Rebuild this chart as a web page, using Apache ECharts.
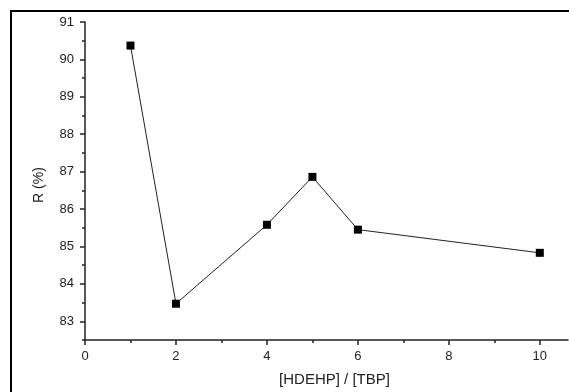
<!DOCTYPE html>
<html>
<head>
<meta charset="utf-8">
<script src="https://cdn.jsdelivr.net/npm/echarts@6/dist/echarts.min.js"></script>
<style>
  html, body { margin: 0; padding: 0; background: #fff; }
  #chart { width: 569px; height: 392px; }
</style>
</head>
<body>
<div id="chart"></div>
<script>
// data
const ratio = [1, 2, 4, 5, 6, 10];
const recovery = [90.37, 83.47, 85.58, 86.86, 85.45, 84.83];
const yMajor = [83, 84, 85, 86, 87, 88, 89, 90, 91];
const yMinor = [82.5, 83.5, 84.5, 85.5, 86.5, 87.5, 88.5, 89.5, 90.5];
const xMajor = [0, 2, 4, 6, 8, 10];

const font = 'Arial, "Liberation Sans", sans-serif';
const axisColor = '#222';

const myChart = echarts.init(document.getElementById('chart'));

const points = [];
for (let i = 0; i < ratio.length; i++) {
  points.push([ratio[i], recovery[i]]);
}

const gridLeft = 85, gridRight = 1;
const plotWidth = 569 - gridLeft - gridRight;

const option = {
  backgroundColor: '#fff',
  animation: false,
  grid: { left: gridLeft, right: gridRight, top: 22, bottom: 52, containLabel: false },
  // outer frame, cut off at right and bottom
  graphic: [
    {
      type: 'polyline',
      shape: { points: [[11, 400], [11, 11], [580, 11]] },
      style: { fill: 'none', stroke: '#000', lineWidth: 2 },
      z: 100
    }
  ],
  xAxis: {
    type: 'value',
    min: 0,
    max: 10.62,   // the axis runs off the right edge of the picture
    interval: 2,
    splitLine: { show: false },
    name: '[HDEHP] / [TBP]',
    nameLocation: 'middle',
    nameGap: 32,
    nameTextStyle: { fontFamily: font, fontSize: 15, color: '#222', padding: [0, 0, 0, 16] },
    axisLine: { lineStyle: { color: axisColor, width: 1.5 } },
    axisTick: { show: true, length: 5, customValues: xMajor, lineStyle: { color: axisColor, width: 1.5 } },
    minorTick: { show: true, splitNumber: 2, length: 3, lineStyle: { color: axisColor, width: 1.5 } },
    axisLabel: { customValues: xMajor, fontFamily: font, fontSize: 13, color: '#222', margin: 10 }
  },
  yAxis: [
    {
      type: 'value',
      position: 'left',
      min: 82.5,
      max: 91,
      splitLine: { show: false },
      name: 'R (%)',
      nameLocation: 'middle',
      nameGap: 39,
      nameTextStyle: { fontFamily: font, fontSize: 14, color: '#222', padding: [0, 8, 0, 0] },
      axisLine: { lineStyle: { color: axisColor, width: 1.5 } },
      axisTick: { show: true, length: 5, customValues: yMajor, lineStyle: { color: axisColor, width: 1.5 } },
      axisLabel: { customValues: yMajor, fontFamily: font, fontSize: 13, color: '#222', margin: 11 }
    },
    {
      // minor ticks only, moved over onto the left axis
      type: 'value',
      position: 'right',
      offset: -plotWidth,
      min: 82.5,
      max: 91,
      splitLine: { show: false },
      axisLine: { show: false },
      axisTick: { show: true, inside: true, length: 3, customValues: yMinor, lineStyle: { color: axisColor, width: 1.5 } },
      axisLabel: { show: false }
    }
  ],
  series: [
    {
      type: 'line',
      data: points,
      symbol: 'rect',
      symbolSize: 8,
      itemStyle: { color: '#000' },
      lineStyle: { color: '#222', width: 1 },
      z: 5
    }
  ]
};

myChart.setOption(option);
</script>
</body>
</html>
